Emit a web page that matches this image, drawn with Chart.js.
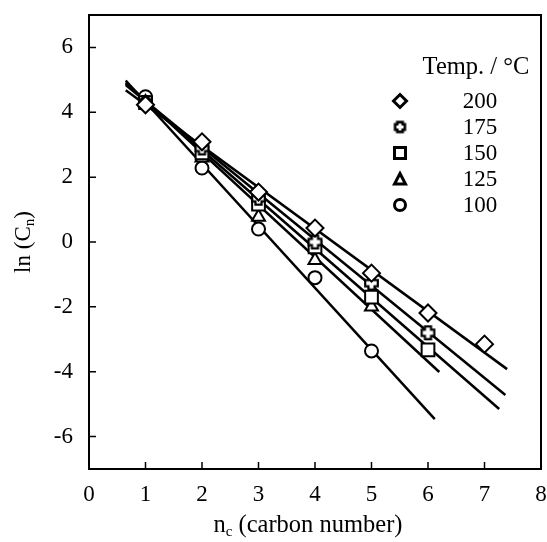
<!DOCTYPE html>
<html><head><meta charset="utf-8">
<script src="https://cdn.jsdelivr.net/npm/chart.js@4/dist/chart.umd.min.js"></script>
<style>html,body{margin:0;padding:0;background:#fff}#wrap{width:547px;height:542px}</style>
</head><body><div id="wrap"><canvas id="c" width="547" height="542"></canvas></div>
<script>
// carbon numbers
const nc = [1, 2, 3, 4, 5, 6, 7];
// ln(Cn) by temperature
const t200 = [4.23, 3.09, 1.54, 0.43, -0.96, -2.19, -3.15];
const t175 = [4.30, 2.90, 1.35, 0.00, -1.27, -2.80];
const t150 = [4.30, 2.75, 1.17, -0.15, -1.70, -3.33];
const t125 = [4.30, 2.60, 0.77, -0.56, -2.00];
const t100 = [4.48, 2.28, 0.40, -1.10, -3.36];
// fitted lines (endpoints)
const fit200x = [0.65, 7.40], fit200y = [4.68, -3.92];
const fit175x = [0.65, 7.37], fit175y = [4.84, -4.72];
const fit150x = [0.65, 7.26], fit150y = [4.88, -5.15];
const fit125x = [0.65, 6.20], fit125y = [4.92, -4.01];
const fit100x = [0.65, 6.12], fit100y = [4.98, -5.46];
const temps = ['200', '175', '150', '125', '100'];
const xTicks = [0, 1, 2, 3, 4, 5, 6, 7, 8];
const yTicks = [-6, -4, -2, 0, 2, 4, 6];

const FONT = '"Liberation Serif", "Times New Roman", serif';
const FS = 23, TS = 24.5, SUB = 15;

function plusCanvas(s, lw) {
  const c = document.createElement('canvas');
  c.width = s; c.height = s;
  const g = c.getContext('2d');
  const m = s / 2, a = s * 0.18, e = s / 2 - lw;
  g.beginPath();
  g.moveTo(m - a, m - e); g.lineTo(m + a, m - e); g.lineTo(m + a, m - a);
  g.lineTo(m + e, m - a); g.lineTo(m + e, m + a); g.lineTo(m + a, m + a);
  g.lineTo(m + a, m + e); g.lineTo(m - a, m + e); g.lineTo(m - a, m + a);
  g.lineTo(m - e, m + a); g.lineTo(m - e, m - a); g.lineTo(m - a, m - a);
  g.closePath();
  g.fillStyle = '#fff'; g.fill();
  g.lineWidth = lw; g.strokeStyle = '#000'; g.stroke();
  return c;
}
const plusImg = plusCanvas(17, 2.2);

function pts(xs, ys) { return ys.map((y, i) => ({x: xs[i], y})); }
function pset(label, ys, style, r) {
  return {label, data: pts(nc, ys), showLine: false, pointStyle: style, pointRadius: r, pointHoverRadius: r,
    pointBorderWidth: 2, pointBackgroundColor: '#fff', pointBorderColor: '#000', order: 0};
}
function lset(xs, ys) {
  return {data: pts(xs, ys), showLine: true, pointRadius: 0, borderColor: '#000', borderWidth: 2.5, fill: false, order: 1};
}

const frame = {
  id: 'frame',
  afterDraw(chart) {
    const {ctx, chartArea: a, scales: {x, y}} = chart;
    ctx.save();
    ctx.strokeStyle = '#000'; ctx.lineWidth = 2;
    ctx.strokeRect(a.left, a.top, a.right - a.left, a.bottom - a.top);
    ctx.lineWidth = 1.5;
    ctx.beginPath();
    xTicks.slice(1, -1).forEach(v => { const px = x.getPixelForValue(v); ctx.moveTo(px, a.bottom); ctx.lineTo(px, a.bottom - 7); });
    yTicks.forEach(v => { const py = y.getPixelForValue(v); ctx.moveTo(a.left, py); ctx.lineTo(a.left + 7, py); });
    ctx.stroke();
    // axis titles
    ctx.fillStyle = '#000';
    ctx.textBaseline = 'alphabetic';
    const xt1 = 'n', xt2 = 'c', xt3 = ' (carbon number)';
    ctx.font = TS + 'px ' + FONT; const w1 = ctx.measureText(xt1).width, w3 = ctx.measureText(xt3).width;
    ctx.font = SUB + 'px ' + FONT; const w2 = ctx.measureText(xt2).width;
    let sx = 308 - (w1 + w2 + w3) / 2, by = 532;
    ctx.textAlign = 'left';
    ctx.font = TS + 'px ' + FONT; ctx.fillText(xt1, sx, by);
    ctx.font = SUB + 'px ' + FONT; ctx.fillText(xt2, sx + w1, by + 4);
    ctx.font = TS + 'px ' + FONT; ctx.fillText(xt3, sx + w1 + w2, by);
    // y title
    ctx.save();
    ctx.translate(30, 242);
    ctx.rotate(-Math.PI / 2);
    const y1 = 'ln (C', y2 = 'n', y3 = ')';
    ctx.font = FS + 'px ' + FONT; const v1 = ctx.measureText(y1).width, v3 = ctx.measureText(y3).width;
    ctx.font = SUB + 'px ' + FONT; const v2 = ctx.measureText(y2).width;
    let s2 = -(v1 + v2 + v3) / 2;
    ctx.font = FS + 'px ' + FONT; ctx.fillText(y1, s2, 0);
    ctx.font = SUB + 'px ' + FONT; ctx.fillText(y2, s2 + v1, 4);
    ctx.font = FS + 'px ' + FONT; ctx.fillText(y3, s2 + v1 + v2, 0);
    ctx.restore();
    // legend
    ctx.font = TS + 'px ' + FONT;
    ctx.textAlign = 'center'; ctx.textBaseline = 'middle';
    ctx.fillText('Temp. / \u00B0C', 476, 68);
    ctx.font = FS + 'px ' + FONT;
    const rows = [101, 127, 153, 179, 205];
    ctx.lineWidth = 3; ctx.strokeStyle = '#000';
    temps.forEach((t, i) => {
      const cy = rows[i], cx = 400;
      ctx.fillStyle = '#000';
      ctx.fillText(t, 480, cy + 1);
      ctx.beginPath();
      if (i === 0) { ctx.moveTo(cx, cy - 6.5); ctx.lineTo(cx + 6.5, cy); ctx.lineTo(cx, cy + 6.5); ctx.lineTo(cx - 6.5, cy); ctx.closePath(); ctx.stroke(); }
      else if (i === 1) { ctx.drawImage(plusCanvas(15, 2.6), cx - 7.5, cy - 7.5); }
      else if (i === 2) { ctx.strokeRect(cx - 5.5, cy - 5.5, 11, 11); }
      else if (i === 3) { ctx.moveTo(cx, cy - 5.5); ctx.lineTo(cx + 5.5, cy + 5); ctx.lineTo(cx - 5.5, cy + 5); ctx.closePath(); ctx.stroke(); }
      else { ctx.arc(cx, cy, 5.5, 0, Math.PI * 2); ctx.stroke(); }
    });
    ctx.restore();
  }
};

new Chart(document.getElementById('c'), {
  type: 'scatter',
  data: {datasets: [
    pset('200', t200, 'rectRot', 8.5),
    pset('175', t175, plusImg, 8),
    pset('150', t150, 'rect', 9),
    pset('125', t125, 'triangle', 7.5),
    pset('100', t100, 'circle', 6.5),
    lset(fit200x, fit200y), lset(fit175x, fit175y), lset(fit150x, fit150y),
    lset(fit125x, fit125y), lset(fit100x, fit100y)
  ]},
  options: {
    responsive: false, animation: false, devicePixelRatio: 1,
    layout: {autoPadding: false, padding: {top: 15, right: 6, left: 0, bottom: 0}},
    plugins: {legend: {display: false}, tooltip: {enabled: false}},
    scales: {
      x: {type: 'linear', min: 0, max: 8,
        afterBuildTicks: s => { s.ticks = xTicks.map(v => ({value: v})); },
        afterFit: s => { s.height = 73; s.paddingLeft = 0; s.paddingRight = 0; },
        grid: {display: false, drawTicks: false}, border: {display: false},
        ticks: {color: '#000', font: {family: FONT, size: FS}, padding: 12, maxRotation: 0}},
      y: {type: 'linear', min: -7, max: 7,
        afterBuildTicks: s => { s.ticks = yTicks.map(v => ({value: v})); },
        afterFit: s => { s.width = 89; s.paddingTop = 0; s.paddingBottom = 0; },
        grid: {display: false, drawTicks: false}, border: {display: false},
        ticks: {color: '#000', font: {family: FONT, size: FS}, padding: 16}}
    }
  },
  plugins: [frame]
});
</script></body></html>
